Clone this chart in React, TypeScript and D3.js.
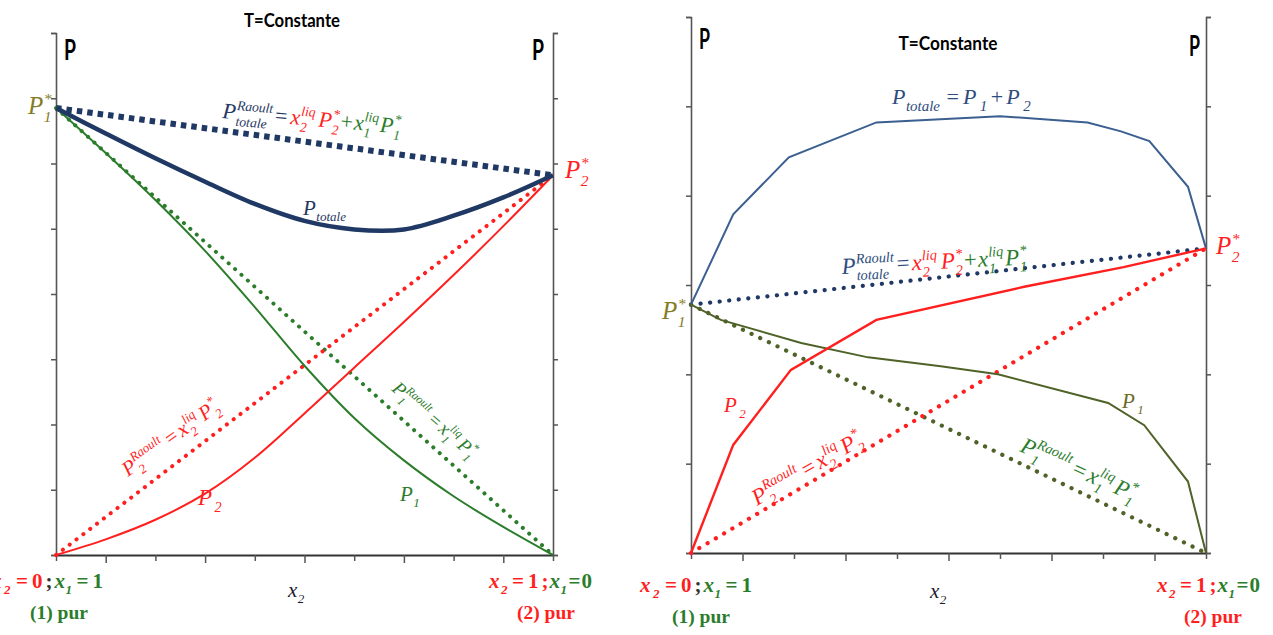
import React, { useEffect, useRef } from "react";
import * as d3 from "d3";

// left diagram (negative deviation), values read on a 0..8 pressure scale
const xGrid = [0, 0.1, 0.2, 0.3, 0.4, 0.5, 0.6, 0.7, 0.8, 0.9, 1];
const leftP1 = [6.85, 6.16, 5.44, 4.66, 3.8, 2.9, 2.1, 1.45, 0.9, 0.43, 0];
const leftP2 = [0, 0.24, 0.54, 0.94, 1.49, 2.17, 2.87, 3.57, 4.29, 5.04, 5.82];
const leftPtot = [6.85, 6.46, 6.08, 5.72, 5.38, 5.12, 4.99, 4.99, 5.2, 5.48, 5.82];
const leftP1Star = 6.85;
const leftP2Star = 5.82;

// right diagram (positive deviation), 0..6 pressure scale
const rightTotX = [0, 0.082, 0.19, 0.36, 0.6, 0.77, 0.835, 0.89, 0.965, 1];
const rightTot = [2.78, 3.79, 4.43, 4.82, 4.89, 4.82, 4.72, 4.61, 4.1, 3.41];
const rightP2X = [0, 0.082, 0.194, 0.36, 0.647, 0.84, 1];
const rightP2 = [0, 1.21, 2.05, 2.61, 2.98, 3.2, 3.41];
const rightP1X = [0, 0.058, 0.214, 0.344, 0.485, 0.596, 0.81, 0.88, 0.965, 1];
const rightP1 = [2.78, 2.61, 2.35, 2.19, 2.09, 2.0, 1.68, 1.43, 0.8, 0];
const rightP1Star = 2.78;
const rightP2Star = 3.41;

const leftYTicks = [0, 1, 2, 3, 4, 5, 6, 7, 8];
const rightYTicks = [0, 1, 2, 3, 4, 5, 6];

const RED = "#ff1f1f";
const GREEN = "#2b7d2b";
const OLIVE = "#4f6228";
const NAVY = "#1f3864";
const BLUE = "#3a5f90";
const GOLD = "#857b26";
const SERIF = '"Liberation Serif", serif';
const SANS = 'Lato, "Liberation Sans", sans-serif';

let ctx: CanvasRenderingContext2D | null = null;
function measure(s: string, size: number, italic: boolean, bold: boolean) {
  if (!ctx) ctx = document.createElement("canvas").getContext("2d");
  if (!ctx) return s.length * size * 0.5;
  ctx.font = `${italic ? "italic " : ""}${bold ? "bold " : ""}${size}px "Liberation Serif"`;
  return ctx.measureText(s).width;
}

type Tok = { b: string; sup?: string; sub?: string; c?: string; g?: number; up?: boolean; sg?: number };

function Formula({ x, y, rot = 0, size, color = "#000", bold = false, ratio = 0.62, toks }: {
  x: number; y: number; rot?: number; size: number; color?: string; bold?: boolean; ratio?: number; toks: Tok[];
}) {
  const small = size * ratio;
  let cx = 0;
  const out: React.ReactElement[] = [];
  toks.forEach((t, i) => {
    cx += t.g ?? 0;
    const it = !t.up;
    const st = { fill: t.c ?? color, fontStyle: it ? "italic" : "normal", fontWeight: bold ? "bold" : "normal" } as const;
    out.push(<text key={"b" + i} x={cx} y={0} fontSize={size} {...st}>{t.b}</text>);
    const wb = measure(t.b, size, it, bold);
    const sx = cx + wb + 0.5 + (t.sg ?? 0);
    let ws = 0;
    if (t.sup) {
      out.push(<text key={"p" + i} x={sx} y={-size * 0.42} fontSize={small} {...st}>{t.sup}</text>);
      ws = Math.max(ws, measure(t.sup, small, it, bold));
    }
    if (t.sub) {
      out.push(<text key={"s" + i} x={sx} y={size * 0.3} fontSize={small} {...st}>{t.sub}</text>);
      ws = Math.max(ws, measure(t.sub, small, it, bold));
    }
    cx += wb + (ws ? ws + 1 + (t.sg ?? 0) : 0);
  });
  return <g transform={`translate(${x},${y}) rotate(${rot})`} fontFamily={SERIF}>{out}</g>;
}

function Axes({ x, y, yTicks }: { x: d3.ScaleLinear<number, number>; y: d3.ScaleLinear<number, number>; yTicks: number[] }) {
  const ref = useRef<SVGGElement>(null);
  useEffect(() => {
    const g = d3.select(ref.current);
    g.selectAll("*").remove();
    const [x0, x1] = x.range();
    const [y0] = y.range();
    const blank = () => "";
    g.append("g").attr("transform", `translate(${x0},0)`)
      .call(d3.axisLeft(y).tickValues(yTicks).tickSize(5).tickSizeOuter(5).tickFormat(blank));
    g.append("g").attr("transform", `translate(${x1},0)`)
      .call(d3.axisRight(y).tickValues(yTicks).tickSize(5).tickSizeOuter(5).tickFormat(blank));
    const bx = g.append("g").attr("class", "xb").attr("transform", `translate(0,${y0})`)
      .call(d3.axisBottom(x).tickValues(xGrid).tickSize(6).tickSizeOuter(0).tickFormat(blank));
    g.selectAll(".domain").attr("stroke", "#555").attr("stroke-width", 1.6);
    g.selectAll(".tick line").attr("stroke", "#555").attr("stroke-width", 1.5);
    bx.select(".domain").attr("stroke", "#333").attr("stroke-width", 2.2);
    bx.selectAll(".tick line").attr("y2", (_d, i) => (i % 2 === 1 ? 8 : 6));
  }, [x, y, yTicks]);
  return <g ref={ref} />;
}

const xL = d3.scaleLinear().domain([0, 1]).range([56, 553]);
const yL = d3.scaleLinear().domain([0, 8]).range([555, 33]);
const xR = d3.scaleLinear().domain([0, 1]).range([691, 1206]);
const yR = d3.scaleLinear().domain([0, 6]).range([553, 17]);

function path(xs: number[], ys: number[], sx: d3.ScaleLinear<number, number>, sy: d3.ScaleLinear<number, number>, smooth: boolean) {
  const l = d3.line<number>().x((_d, i) => sx(xs[i])).y((d) => sy(d));
  if (smooth) l.curve(d3.curveCatmullRom.alpha(0.5));
  return l(ys) ?? "";
}

const dotted = (c: string, w = 4, gap = 8.5) => ({
  fill: "none", stroke: c, strokeWidth: w, strokeDasharray: `0.1 ${gap}`, strokeLinecap: "round" as const,
});

// end-of-axis composition labels
const pureLeft = (semi: string): Tok[] => [
  { b: "x", sub: "2", c: RED, sg: 2 },
  { b: "=", c: RED, g: 5, up: true },
  { b: "0", c: RED, g: 4, up: true },
  { b: ";", c: semi, g: 3, up: true },
  { b: "x", sub: "1", c: GREEN, g: 2 },
  { b: "=", c: GREEN, g: 4, up: true },
  { b: "1", c: GREEN, g: 4, up: true },
];
const pureRight: Tok[] = [
  { b: "x", sub: "2", c: RED, sg: 1 },
  { b: "=", c: RED, g: 4, up: true },
  { b: "1", c: RED, g: 4, up: true },
  { b: ";", c: RED, g: 3, up: true },
  { b: "x", sub: "1", c: GREEN, g: 1 },
  { b: "=", c: GREEN, g: 1, up: true },
  { b: "0", c: GREEN, g: 1, up: true },
];

export default function App() {
  const ends = [0, 1];
  return (
    <div style={{ position: "absolute", left: 0, top: 0 }}>
      <svg width={1273} height={635} style={{ display: "block", background: "#fff" }}>
        {/* ----- left panel ----- */}
        <Axes x={xL} y={yL} yTicks={leftYTicks} />
        <path d={path(ends, [leftP1Star, leftP2Star], xL, yL, false)} fill="none" stroke={NAVY} strokeWidth={6} strokeDasharray="5.5 5" />
        <path d={path(ends, [leftP1Star, 0], xL, yL, false)} {...dotted(GREEN, 4, 8.5)} />
        <path d={path(ends, [0, leftP2Star], xL, yL, false)} {...dotted(RED, 4, 8.5)} />
        <path d={path(xGrid, leftP1, xL, yL, true)} fill="none" stroke={GREEN} strokeWidth={2} />
        <path d={path(xGrid, leftP2, xL, yL, true)} fill="none" stroke={RED} strokeWidth={2} />
        <path d={path(xGrid, leftPtot, xL, yL, true)} fill="none" stroke={NAVY} strokeWidth={4.5} />

        <text x={292} y={27} textAnchor="middle" fontFamily={SANS} fontWeight="bold" fontSize={18} textLength={96} lengthAdjust="spacingAndGlyphs">T=Constante</text>
        <text x={64} y={60} fontFamily={SANS} fontWeight="bold" fontSize={28} textLength={12} lengthAdjust="spacingAndGlyphs">P</text>
        <text x={532} y={60} fontFamily={SANS} fontWeight="bold" fontSize={28} textLength={12} lengthAdjust="spacingAndGlyphs">P</text>

        <Formula x={28} y={114} size={25} color={GOLD} toks={[{ b: "P", sup: "*", sub: "1" }]} />
        <Formula x={565} y={178} size={25} color={RED} toks={[{ b: "P", sup: "*", sub: "2" }]} />
        <Formula x={222} y={118} rot={5} size={22} toks={[
          { b: "P", sup: "Raoult", sub: "totale", c: NAVY },
          { b: "=", c: NAVY, g: 2, up: true },
          { b: "x", sup: "liq", sub: "2", c: RED, g: 3 },
          { b: "P", sup: "*", sub: "2", c: RED, g: 3 },
          { b: "+", c: GREEN, g: 1, up: true },
          { b: "x", sup: "liq", sub: "1", c: GREEN, g: 1 },
          { b: "P", sup: "*", sub: "1", c: GREEN, g: 1 },
        ]} />
        <Formula x={303} y={215} size={21} color={NAVY} toks={[{ b: "P", sub: "totale" }]} />
        <Formula x={128} y={477} rot={-36} size={21} color={RED} toks={[
          { b: "P", sup: "Raoult", sub: "2" },
          { b: "=", g: 4, up: true },
          { b: "x", sup: "liq", sub: "2", g: 3 },
          { b: "P", sup: "*", sub: "2", g: 3 },
        ]} />
        <Formula x={391} y={390} rot={41} size={19} color={GREEN} toks={[
          { b: "P", sup: "Raoult", sub: "1" },
          { b: "=", g: 4, up: true },
          { b: "x", sup: "liq", sub: "1", g: 3 },
          { b: "P", sup: "*", sub: "1", g: 3 },
        ]} />
        <Formula x={198} y={505} size={23} color={RED} toks={[{ b: "P", sub: "2", sg: 2 }]} />
        <Formula x={400} y={501} size={21} color={GREEN} toks={[{ b: "P", sub: "1" }]} />

        <Formula x={-9} y={588} size={21} bold toks={pureLeft("#333")} />
        <Formula x={288} y={597} size={21} color="#1c1c30" toks={[{ b: "x", sub: "2" }]} />
        <Formula x={489} y={588} size={21} bold toks={pureRight} />
        <text x={30} y={619} fontFamily={SERIF} fontWeight="bold" fontSize={19.5} fill={GREEN}>(1) pur</text>
        <text x={517} y={619} fontFamily={SERIF} fontWeight="bold" fontSize={19.5} fill={RED}>(2) pur</text>

        {/* ----- right panel ----- */}
        <Axes x={xR} y={yR} yTicks={rightYTicks} />
        <path d={path(ends, [rightP1Star, rightP2Star], xR, yR, false)} {...dotted(NAVY, 4.2, 9.5)} />
        <path d={path(ends, [rightP1Star, 0], xR, yR, false)} {...dotted(OLIVE, 4.2, 9.5)} />
        <path d={path(ends, [0, rightP2Star], xR, yR, false)} {...dotted(RED, 4.2, 9.5)} />
        <path d={path(rightTotX, rightTot, xR, yR, false)} fill="none" stroke={BLUE} strokeWidth={2} />
        <path d={path(rightP1X, rightP1, xR, yR, false)} fill="none" stroke={OLIVE} strokeWidth={2} />
        <path d={path(rightP2X, rightP2, xR, yR, false)} fill="none" stroke={RED} strokeWidth={2.4} />

        <text x={948} y={50} textAnchor="middle" fontFamily={SANS} fontWeight="bold" fontSize={18} textLength={99} lengthAdjust="spacingAndGlyphs">T=Constante</text>
        <text x={699} y={49} fontFamily={SANS} fontWeight="bold" fontSize={28} textLength={11} lengthAdjust="spacingAndGlyphs">P</text>
        <text x={1189} y={56} fontFamily={SANS} fontWeight="bold" fontSize={28} textLength={11} lengthAdjust="spacingAndGlyphs">P</text>

        <Formula x={892} y={104} size={22} ratio={0.68} color="#2e4d7e" toks={[
          { b: "P", sub: "totale" },
          { b: "=", g: 6, up: true },
          { b: "P", sub: "1", g: 4, sg: 3 },
          { b: "+", g: 3, up: true },
          { b: "P", sub: "2", g: 3, sg: 3 },
        ]} />
        <Formula x={842} y={274} rot={-3} size={23} toks={[
          { b: "P", sup: "Raoult", sub: "totale", c: "#2e4d7e" },
          { b: "=", c: "#2e4d7e", g: 2, up: true },
          { b: "x", sup: "liq", sub: "2", c: RED, g: 2 },
          { b: "P", sup: "*", sub: "2", c: RED, g: 3 },
          { b: "+", c: GREEN, g: 1, up: true },
          { b: "x", sup: "liq", sub: "1", c: GREEN, g: 1 },
          { b: "P", sup: "*", sub: "1", c: GREEN, g: 1 },
        ]} />
        <Formula x={1216} y={254} size={25} color={RED} toks={[{ b: "P", sup: "*", sub: "2" }]} />
        <Formula x={662} y={319} size={25} color={GOLD} toks={[{ b: "P", sup: "*", sub: "1" }]} />
        <Formula x={724} y={412} size={21} color={RED} toks={[{ b: "P", sub: "2", sg: 2 }]} />
        <Formula x={1122} y={408} size={21} color="#6b6b25" toks={[{ b: "P", sub: "1", sg: 2 }]} />
        <Formula x={757} y={506} rot={-30} size={23} color={RED} toks={[
          { b: "P", sup: "Raoult", sub: "2" },
          { b: "=", g: 4, up: true },
          { b: "x", sup: "liq", sub: "2", g: 3 },
          { b: "P", sup: "*", sub: "2", g: 3 },
        ]} />
        <Formula x={1019} y={451} rot={24} size={23} color={GREEN} toks={[
          { b: "P", sup: "Raoult", sub: "1" },
          { b: "=", g: 4, up: true },
          { b: "x", sup: "liq", sub: "1", g: 3 },
          { b: "P", sup: "*", sub: "1", g: 3 },
        ]} />

        <Formula x={640} y={592} size={21} bold toks={pureLeft("#333")} />
        <Formula x={930} y={598} size={21} color="#1c1c30" toks={[{ b: "x", sub: "2" }]} />
        <Formula x={1157} y={592} size={21} bold toks={pureRight} />
        <text x={672} y={623} fontFamily={SERIF} fontWeight="bold" fontSize={19.5} fill={GREEN}>(1) pur</text>
        <text x={1184} y={623} fontFamily={SERIF} fontWeight="bold" fontSize={19.5} fill={RED}>(2) pur</text>
      </svg>
    </div>
  );
}
